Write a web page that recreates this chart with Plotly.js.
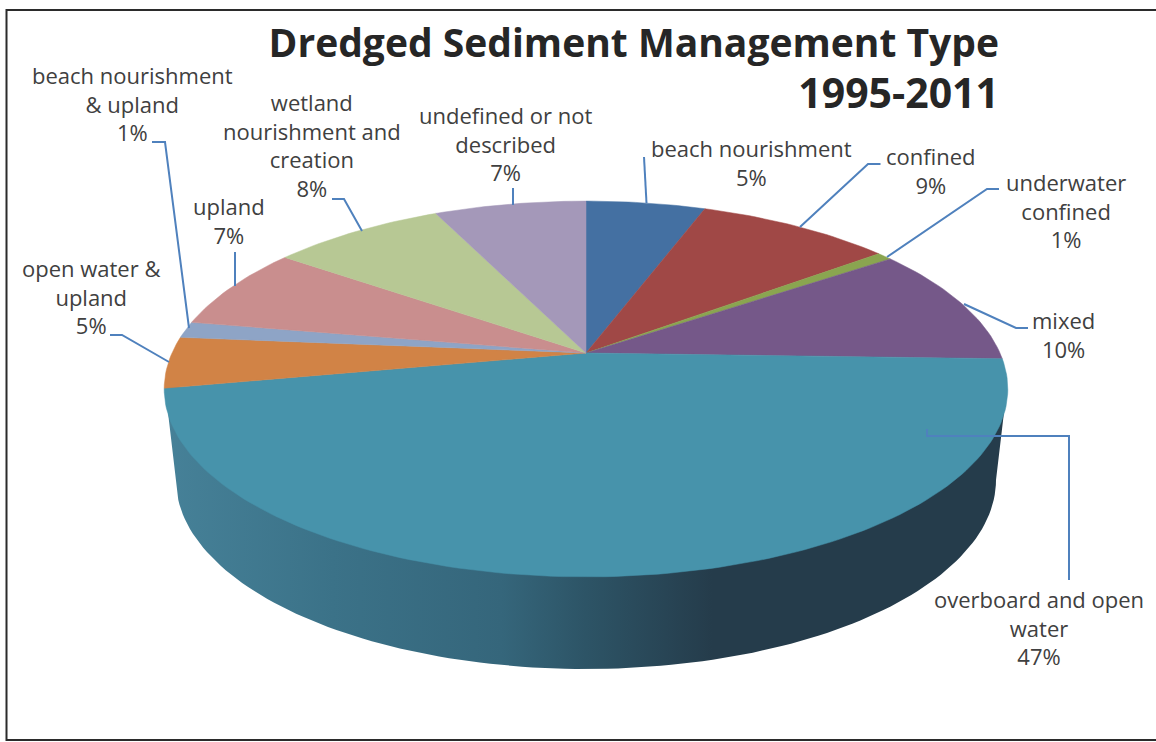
<!DOCTYPE html>
<html>
<head>
<meta charset="utf-8">
<script src="https://cdn.plot.ly/plotly-3.0.1.min.js"></script>
<style>html,body{margin:0;padding:0;background:#fff}#chart{width:1156px;height:742px}</style>
</head>
<body>
<div id="chart"></div>
<script>
// ---- data (clockwise from 12 o'clock) ----
const categories = ["beach nourishment","confined","underwater confined","mixed","overboard and open water","open water & upland","beach nourishment & upland","upland","wetland nourishment and creation","undefined or not described"];
const sliceValues = [5.5,9,0.7,10.3,46.5,4.4,1.4,7.2,8,7];
const percentLabels = ["5%","9%","1%","10%","47%","5%","1%","7%","8%","7%"];
const labelLines = [["beach nourishment"],["confined"],["underwater","confined"],["mixed"],["overboard and open","water"],["open water &","upland"],["beach nourishment","& upland"],["upland"],["wetland","nourishment and","creation"],["undefined or not","described"]];

// ---- styles and layout ----
const sliceColors = ["#4470A2","#A04846","#8AA550","#755889","#4793AB","#D18346","#8EA4C6","#C98E8E","#B7C894","#A498B9"];
const labelPos = [[751,162],[931,170.5],[1066,210],[1063,334.5],[1038.5,627.5],[90.6,296.5],[132,103],[229,220.5],[311.5,145],[505,143.5]];
const leaders = [
  [[644,157],[646.5,203]],
  [[880.5,164],[868,164],[800,227]],
  [[999,189],[987,189],[887,257]],
  [[1028,328],[1016,328],[964,304]],
  [[927,429],[927,436],[1069,436],[1069,580]],
  [[110,335],[122,335],[169,362]],
  [[152,142],[165,142],[189,328]],
  [[235,252],[235,286]],
  [[332,199],[344,199],[362,231]],
  [[513,188],[513,205]]
];
const apex = {x:586, y:353}, tiltK = 0.1916, radA = 414, radB = 181;
const base = {cx:586, cy:480, rx:410, ry:189};
const topEdge = {xl:165, xr:1007, y:387};

// perspective projection of the pie's unit circle onto the page
function project(pct){
  const a = pct/100*2*Math.PI, u = Math.sin(a), v = -Math.cos(a), d = 1 - tiltK*v;
  return [apex.x + radA*u/d, apex.y + radB*v/d];
}

const traces = [];

// side wall of the disc
const sideX = [topEdge.xl], sideY = [topEdge.y];
for(let i=0;i<=120;i++){
  const t = Math.PI - i/120*Math.PI;
  sideX.push(base.cx + base.rx*Math.cos(t));
  sideY.push(base.cy + base.ry*Math.sin(t));
}
sideX.push(topEdge.xr); sideY.push(topEdge.y);
traces.push({type:"scatter",mode:"lines",x:sideX,y:sideY,fill:"toself",hoverinfo:"skip",showlegend:false,
  line:{width:0,color:"#2d5466"},
  fillgradient:{type:"horizontal",colorscale:[[0,"#468198"],[0.2,"#3b7288"],[0.4,"#35667b"],[0.5,"#2d5466"],[0.65,"#253c4b"],[1,"#253c4b"]]}});

// top face slices
let acc = 0;
sliceValues.forEach((val,i)=>{
  const xs=[apex.x], ys=[apex.y];
  const steps = Math.max(4, Math.ceil(val*3));
  for(let s=0;s<=steps;s++){ const p = project(acc + val*s/steps); xs.push(p[0]); ys.push(p[1]); }
  xs.push(apex.x); ys.push(apex.y);
  traces.push({type:"scatter",mode:"lines",x:xs,y:ys,fill:"toself",fillcolor:sliceColors[i],
    line:{color:sliceColors[i],width:0.5},name:categories[i],text:percentLabels[i],hoveron:"fills",hoverinfo:"name+text",showlegend:false});
  acc += val;
});

// labels
const annotations = categories.map((c,i)=>({
  x:labelPos[i][0], y:labelPos[i][1], xref:"x", yref:"y", showarrow:false, xanchor:"center", yanchor:"middle", align:"center",
  text:labelLines[i].concat(percentLabels[i]).join("<br>"),
  font:{family:"'Open Sans', sans-serif",size:22,color:"#404040"}
}));

// leader lines and frame
const shapes = leaders.map(pts=>({type:"path",xref:"x",yref:"y",layer:"above",
  path:pts.map((p,j)=>(j?"L":"M")+p[0]+","+p[1]).join(" "),line:{color:"#4F81BD",width:2}}));
shapes.push({type:"path",xref:"x",yref:"y",layer:"above",path:"M1156,10 L6.5,10 L6.5,740 L1156,740",line:{color:"#2b2b2b",width:2}});

const layout = {
  width:1156,height:742,margin:{l:0,r:0,t:0,b:0,pad:0},paper_bgcolor:"#fff",plot_bgcolor:"#fff",showlegend:false,
  title:{text:"Dredged Sediment Management Type<br><span style=\"font-size:41px\">1995-2011</span>",xref:"paper",yref:"paper",x:999/1156,xanchor:"right",y:1-57/742,yanchor:"top",
    font:{family:"'Open Sans', sans-serif",size:39,weight:700,color:"#262626"}},
  xaxis:{range:[0,1156],visible:false,fixedrange:true},
  yaxis:{range:[742,0],visible:false,fixedrange:true},
  annotations,shapes
};
Plotly.newPlot("chart",traces,layout,{displayModeBar:false,responsive:false});
</script>
</body>
</html>
